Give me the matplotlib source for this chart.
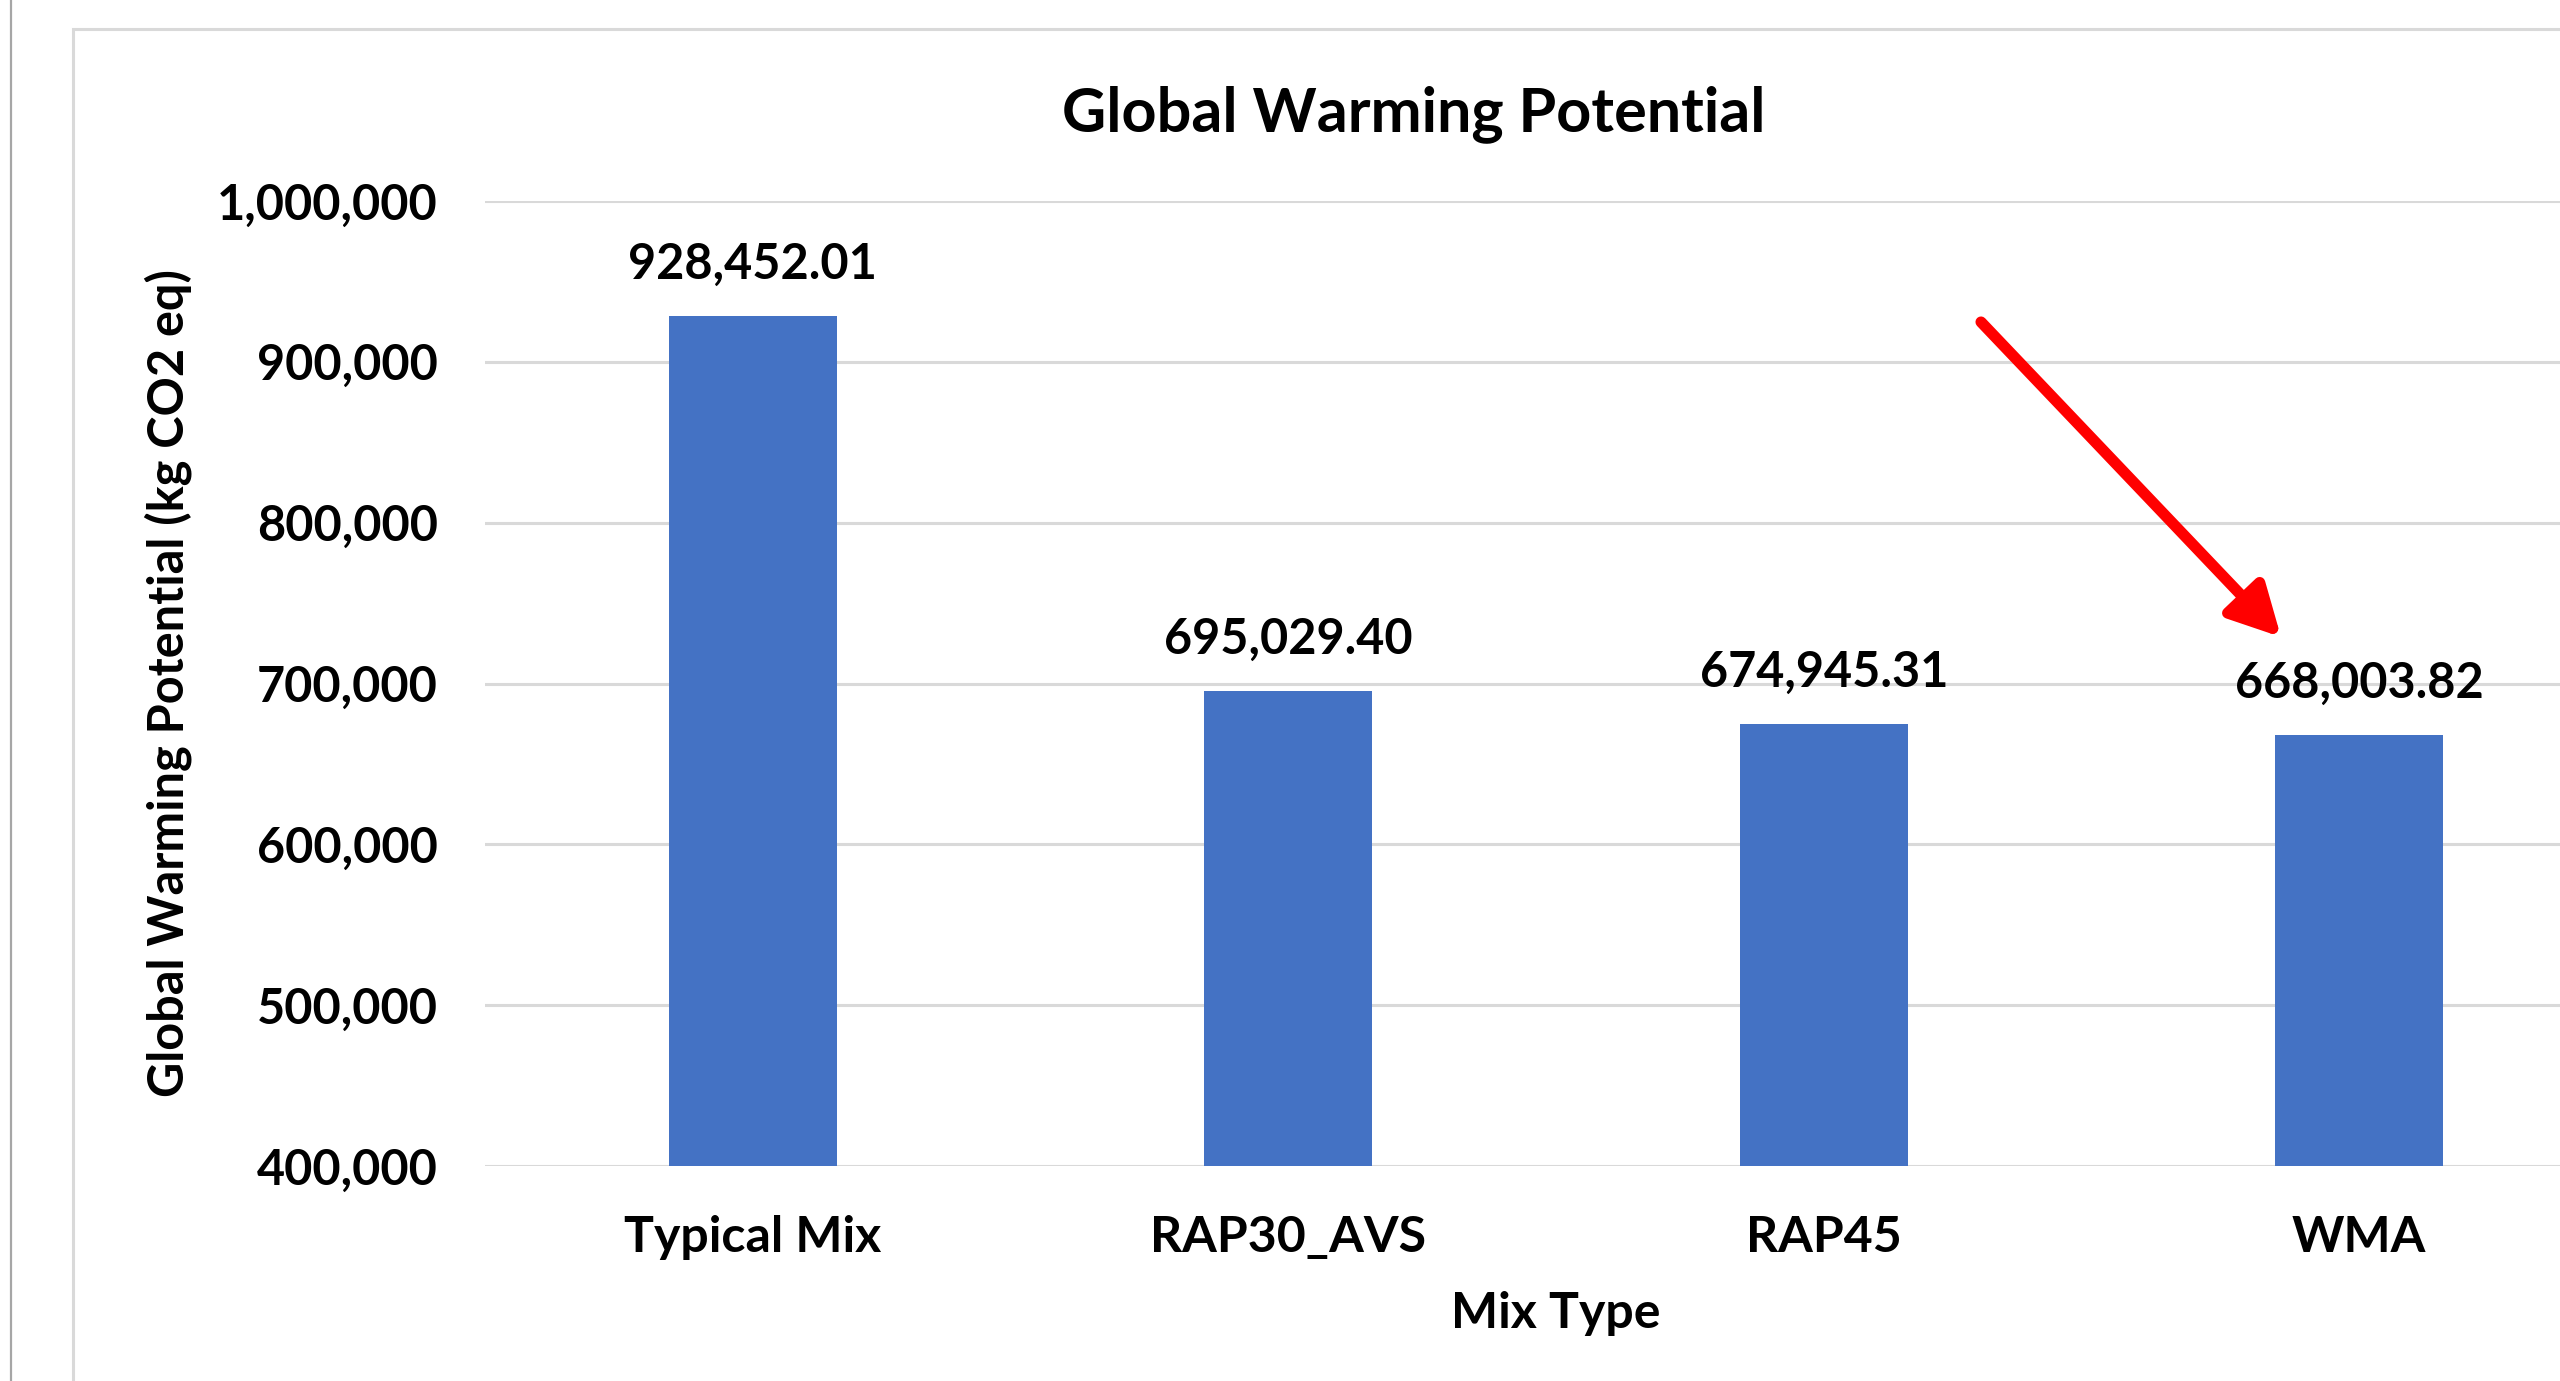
import matplotlib
matplotlib.use('Agg')
import matplotlib.pyplot as plt
from matplotlib.lines import Line2D
from matplotlib.patches import Rectangle
from matplotlib.ticker import FuncFormatter

plt.rcParams.update({'font.family': ['Lato', 'DejaVu Sans'], 'font.weight': 'bold'})

mix_types = ['Typical Mix', 'RAP30_AVS', 'RAP45', 'WMA']
gwp_values = [928452.01, 695029.40, 674945.31, 668003.82]
y_ticks = [400000, 500000, 600000, 700000, 800000, 900000, 1000000]

BAR_COLOR = '#4472C4'
GRID_COLOR = '#D9D9D9'
W, H, DPI = 2560, 1381, 100

fig = plt.figure(figsize=(W / DPI, H / DPI), dpi=DPI)
fig.patch.set_facecolor('white')

# window edge on the far left and the chart frame (runs off the right/bottom)
fig.add_artist(Line2D([11 / W, 11 / W], [0, 1], transform=fig.transFigure, color='#A6A6A6', lw=1.6))
fig.add_artist(Rectangle((73 / W, -0.1), 1.2, 1 - 29 / H + 0.1, transform=fig.transFigure,
                         fill=False, edgecolor=GRID_COLOR, lw=2.2))

# plot area, wider than the figure so the right side is cut off
left, right, top, bottom = 485, 2627, 201, 1166
ax = fig.add_axes([left / W, 1 - bottom / H, (right - left) / W, (bottom - top) / H])
ax.set_facecolor('none')

x = range(len(mix_types))
bars = ax.bar(x, gwp_values, width=0.314, color=BAR_COLOR, zorder=3)
ax.bar_label(bars, labels=[f'{v:,.2f}' for v in gwp_values], padding=21, fontsize=35,
             fontweight='bold', color='black', zorder=4)

ax.set_xlim(-0.5, len(mix_types) - 0.5)
ax.set_ylim(y_ticks[0], y_ticks[-1])
ax.set_yticks(y_ticks)
ax.yaxis.set_major_formatter(FuncFormatter(lambda v, _: f'{v:,.0f}'))
ax.set_xticks(list(x))
ax.set_xticklabels(mix_types)
ax.tick_params(axis='y', length=0, pad=34, labelsize=35)
ax.tick_params(axis='x', length=0, pad=35, labelsize=36)
ax.grid(axis='y', color=GRID_COLOR, lw=2.2, zorder=0)
ax.set_axisbelow(True)
for spine in ax.spines.values():
    spine.set_visible(False)

ax.set_ylabel('Global Warming Potential (kg CO2 eq)', fontsize=35, fontweight='bold', va='center')
ax.yaxis.set_label_coords((168 - left) / (right - left), 0.5)
ax.set_xlabel('Mix Type', fontsize=36, fontweight='bold', va='center')
ax.xaxis.set_label_coords(0.5, (bottom - 1313) / (bottom - top))

fig.text(1414 / W, 1 - 114 / H, 'Global Warming Potential', ha='center', va='center',
         fontsize=44, fontweight='bold')

# red pointer towards the WMA bar
ax.annotate('', xy=(2281, H - 637), xytext=(1981, H - 322), xycoords='figure pixels',
            textcoords='figure pixels',
            arrowprops=dict(arrowstyle='-|>,head_length=0.8,head_width=0.42', mutation_scale=38,
                            lw=8, color='#FF0000', shrinkA=0, shrinkB=0))

fig.savefig('out.png', dpi=DPI, facecolor='white')
